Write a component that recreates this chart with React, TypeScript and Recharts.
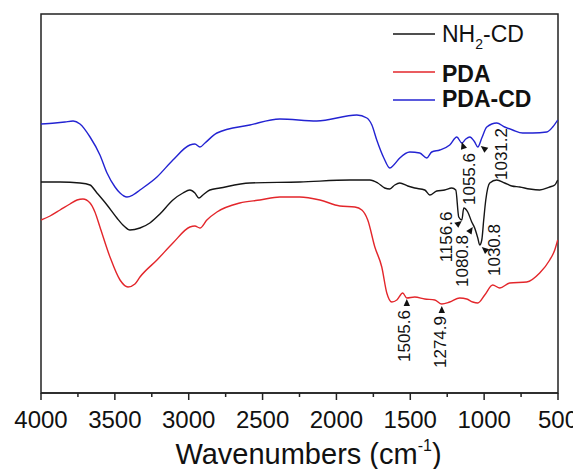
import React from "react";
import { LineChart, Line, XAxis, YAxis, ReferenceArea, ReferenceDot, Legend, Label } from "recharts";

// NH2-CD (black)
const nh2Wn = [4000, 3871, 3736, 3668, 3621, 3553, 3486, 3438, 3398, 3330, 3263, 3195, 3107, 3039, 2992, 2958, 2931, 2904, 2857, 2789, 2586, 2248, 1909, 1774, 1720, 1673, 1639, 1605, 1571, 1517, 1470, 1402, 1368, 1321, 1267, 1219, 1192, 1172, 1151, 1138, 1111, 1084, 1064, 1043, 1030, 1016, 1003, 989, 962, 915, 861, 813, 759, 692, 624, 556, 522, 502];
const nh2Val = [211, 211, 210, 208, 200, 188, 175, 167, 163, 165, 170, 179, 193, 200, 203, 200, 195, 198, 203, 205, 210, 211, 213, 213, 210, 205, 204, 208, 210, 207, 205, 203, 198, 202, 203, 205, 203, 176, 173, 185, 181, 171, 165, 155, 148, 153, 173, 193, 210, 213, 210, 207, 206, 204, 203, 206, 208, 213];

// PDA (red)
const pdaWn = [4000, 3939, 3871, 3804, 3756, 3716, 3668, 3635, 3601, 3533, 3465, 3411, 3364, 3330, 3215, 3107, 2992, 2958, 2924, 2877, 2809, 2654, 2518, 2383, 2248, 2112, 1977, 1875, 1828, 1788, 1740, 1693, 1659, 1625, 1591, 1551, 1524, 1470, 1402, 1334, 1287, 1233, 1165, 1118, 1077, 1043, 996, 942, 894, 827, 712, 624, 556, 522, 502];
const pdaVal = [173, 177, 183, 189, 193, 194, 190, 181, 166, 136, 113, 106, 109, 116, 133, 150, 166, 167, 165, 173, 181, 190, 193, 196, 196, 193, 187, 186, 183, 173, 146, 126, 100, 91, 93, 100, 95, 96, 94, 93, 89, 91, 95, 94, 91, 90, 98, 108, 105, 110, 111, 120, 133, 143, 153];

// PDA-CD (blue)
const pdacdWn = [4000, 3905, 3838, 3783, 3736, 3668, 3601, 3553, 3499, 3465, 3418, 3378, 3330, 3215, 3107, 2992, 2958, 2924, 2890, 2809, 2586, 2383, 2133, 1862, 1794, 1760, 1727, 1679, 1639, 1612, 1571, 1503, 1436, 1388, 1355, 1300, 1233, 1185, 1151, 1124, 1097, 1064, 1043, 1016, 982, 915, 861, 807, 739, 671, 576, 536, 502];
const pdacdVal = [269, 270, 271, 272, 269, 256, 238, 220, 206, 200, 196, 198, 203, 216, 233, 248, 249, 246, 250, 260, 268, 274, 272, 278, 275, 268, 253, 235, 225, 228, 235, 241, 240, 235, 241, 243, 248, 256, 250, 254, 256, 251, 246, 255, 266, 270, 266, 263, 260, 260, 261, 266, 273];

const xTicks = [4000, 3750, 3500, 3250, 3000, 2750, 2500, 2250, 2000, 1750, 1500, 1250, 1000, 750, 500];

// peak annotations
const annLabels = ["1055.6", "1031.2", "1156.6", "1080.8", "1030.8", "1505.6", "1274.9"];
const annWn = [1151.5, 1023, 1151.5, 1077, 1016, 1523.6, 1286.8];
const annVal = [251, 247, 172, 166, 146, 94, 87];
// layout offsets (pixels): arrow base direction and label centre relative to arrow tip
const annLayout = [
  { bx: 2, by: 6, tx: 8, ty: 37 },
  { bx: 8, by: 6, tx: 21, ty: 8 },
  { bx: -5, by: 4, tx: -15, ty: 16 },
  { bx: -4, by: 6, tx: -10, ty: 34 },
  { bx: 7, by: 6, tx: 13, ty: 3 },
  { bx: 0, by: 7, tx: -2, ty: 37 },
  { bx: 0, by: 7, tx: -1, ty: 36 },
];

const toData = (wn: number[], val: number[]) => wn.map((w, i) => ({ wn: w, v: val[i] }));
const nh2Data = toData(nh2Wn, nh2Val);
const pdaData = toData(pdaWn, pdaVal);
const pdacdData = toData(pdacdWn, pdacdVal);

const FONT = "'Liberation Sans', Arial, Helvetica, sans-serif";
const BLACK = "#151515";
const RED = "#e3262b";
const BLUE = "#2323d2";

const XTick = (props: any) => {
  const { x, y, payload } = props;
  const v = payload.value;
  const major = v % 500 === 0;
  return (
    <g>
      <line x1={x} x2={x} y1={y} y2={y + (major ? 7 : 4)} stroke="#222" strokeWidth={1.5} />
      {major && (
        <text x={x} y={y + 35} textAnchor="middle" fontSize={24} fontFamily={FONT} fill="#111">
          {v}
        </text>
      )}
    </g>
  );
};

const TitleContent = (props: any) => {
  const vb = props.viewBox || { x: 33, y: 385, width: 517 };
  const cx = vb.x + vb.width / 2 + 9;
  const y = vb.y + 71;
  return (
    <text x={cx} y={y} textAnchor="middle" fontSize={29} fontFamily={FONT} fill="#111">
      Wavenumbers (cm
      <tspan fontSize={16} dy={-13}>-1</tspan>
      <tspan dy={13}>)</tspan>
    </text>
  );
};

const LegendContent = () => (
  <svg width={180} height={100} style={{ display: "block" }}>
    <line x1={8} x2={50} y1={20} y2={20} stroke={BLACK} strokeWidth={1.5} />
    <text x={57} y={28} fontSize={23} fontFamily={FONT} fill="#111">
      NH<tspan fontSize={14} dy={7}>2</tspan><tspan dy={-7}>-CD</tspan>
    </text>
    <line x1={8} x2={50} y1={58} y2={58} stroke={RED} strokeWidth={1.5} />
    <text x={57} y={68} fontSize={23} fontWeight="bold" fontFamily={FONT} fill="#111">PDA</text>
    <line x1={8} x2={50} y1={86} y2={86} stroke={BLUE} strokeWidth={1.5} />
    <text x={57} y={93} fontSize={23} fontWeight="bold" fontFamily={FONT} fill="#111">PDA-CD</text>
  </svg>
);

const makeAnnShape = (i: number) => (p: any) => {
  const { cx, cy } = p;
  const { bx, by, tx, ty } = annLayout[i];
  const len = Math.hypot(bx, by) || 1;
  const ux = bx / len;
  const uy = by / len;
  const L = 7;
  const W = 3.2;
  const baseX = cx + ux * L;
  const baseY = cy + uy * L;
  const px = -uy * W;
  const py = ux * W;
  const tcx = cx + tx;
  const tcy = cy + ty;
  return (
    <g>
      <polygon
        points={`${cx},${cy} ${baseX + px},${baseY + py} ${baseX - px},${baseY - py}`}
        fill="#111"
      />
      <text
        x={tcx}
        y={tcy}
        transform={`rotate(-90 ${tcx} ${tcy})`}
        textAnchor="middle"
        dominantBaseline="central"
        fontSize={17}
        fontFamily={FONT}
        fill="#111"
      >
        {annLabels[i]}
      </text>
    </g>
  );
};

export default function App() {
  return (
    <div style={{ width: 573, height: 461 }}>
      <LineChart width={573} height={461} margin={{ top: 6, right: 23, left: 33, bottom: 16 }}>
        <XAxis
          dataKey="wn"
          type="number"
          domain={[500, 4000]}
          reversed
          ticks={xTicks}
          interval={0}
          tick={<XTick />}
          tickLine={false}
          tickSize={0}
          tickMargin={0}
          axisLine={{ stroke: "#222", strokeWidth: 1.5 }}
          height={60}
          allowDataOverflow
        >
          <Label content={<TitleContent />} />
        </XAxis>
        <YAxis type="number" domain={[0, 379]} hide allowDataOverflow />
        <ReferenceArea x1={4000} x2={500} y1={0} y2={379} fill="none" stroke="#222" strokeWidth={1.5} fillOpacity={0} />
        <Line data={nh2Data} dataKey="v" stroke={BLACK} strokeWidth={1.4} dot={false} type="monotone" isAnimationActive={false} name="NH2-CD" />
        <Line data={pdaData} dataKey="v" stroke={RED} strokeWidth={1.4} dot={false} type="monotone" isAnimationActive={false} name="PDA" />
        <Line data={pdacdData} dataKey="v" stroke={BLUE} strokeWidth={1.4} dot={false} type="monotone" isAnimationActive={false} name="PDA-CD" />
        {annLabels.map((lab, i) => (
          <ReferenceDot
            key={lab}
            x={annWn[i]}
            y={annVal[i]}
            r={0}
            ifOverflow="visible"
            shape={makeAnnShape(i)}
          />
        ))}
        <Legend
          layout="horizontal"
          verticalAlign="middle"
          align="center"
          content={<LegendContent />}
          wrapperStyle={{ left: 377, top: 6, width: 180, height: 100 }}
        />
      </LineChart>
    </div>
  );
}
